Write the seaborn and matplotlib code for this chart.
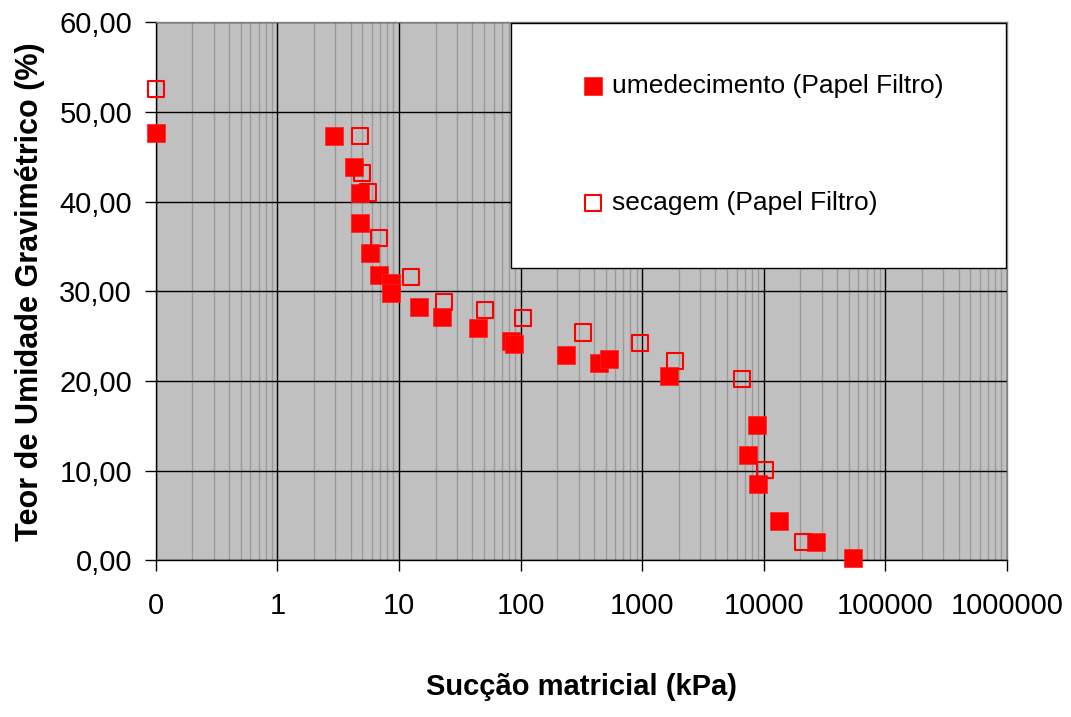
import matplotlib
matplotlib.use("Agg")
import matplotlib.pyplot as plt
import matplotlib.patches as mpatches
from matplotlib.ticker import FixedLocator, LogLocator, NullFormatter
import pandas as pd
import seaborn as sns

# umedecimento (filled squares)
umed_succao = [0.1, 2.9, 4.27, 4.78, 4.78, 5.77, 6.8, 8.6, 8.6, 14.7, 22.6, 44.9,
               83.8, 87.6, 238, 441, 536, 1648, 8730, 7460, 9010, 13340, 26680, 53700]
umed_teor = [47.6, 47.3, 43.9, 41.0, 37.55, 34.3, 31.8, 30.9, 29.8, 28.2, 27.1, 25.9,
             24.5, 24.1, 22.9, 22.0, 22.4, 20.6, 15.1, 11.7, 8.5, 4.4, 2.1, 0.3]

# secagem (open squares)
sec_succao = [0.1, 4.78, 4.96, 5.56, 6.8, 12.55, 23.3, 50.6, 105, 324, 959, 1862,
              6622, 10160, 21130]
sec_teor = [52.5, 47.3, 43.2, 41.0, 35.9, 31.6, 28.8, 27.9, 27.0, 25.4, 24.25, 22.2,
            20.2, 10.1, 2.1]

x_ticks = [0.1, 1, 10, 100, 1000, 10000, 100000, 1000000]
x_tick_labels = ['0', '1', '10', '100', '1000', '10000', '100000', '1000000']
y_ticks = [0, 10, 20, 30, 40, 50, 60]
y_tick_labels = ['0,00', '10,00', '20,00', '30,00', '40,00', '50,00', '60,00']

df_umed = pd.DataFrame({'succao': umed_succao, 'teor': umed_teor})
df_sec = pd.DataFrame({'succao': sec_succao, 'teor': sec_teor})

sns.set_theme(style='ticks')
plt.rcParams['font.family'] = ['Liberation Sans', 'DejaVu Sans']
plt.rcParams['text.color'] = 'black'
plt.rcParams['axes.labelcolor'] = 'black'

fig = plt.figure(figsize=(10.71, 7.17), dpi=100)
ax = fig.add_axes([0.1454, 0.2183, 0.7949, 0.7510])
ax.set_facecolor('#C0C0C0')

sns.scatterplot(data=df_umed, x='succao', y='teor', marker='s', s=150, color='#FF0000',
                edgecolor='#FF2020', linewidth=0.5, ax=ax, clip_on=False, zorder=3,
                label='umedecimento (Papel Filtro)')
sns.scatterplot(data=df_sec, x='succao', y='teor', marker='s', s=135, facecolors='none',
                edgecolor='#FF0000', linewidth=1.5, ax=ax, clip_on=False, zorder=3,
                label='secagem (Papel Filtro)')

ax.set_xscale('log')
ax.set_xlim(0.1, 1000000)
ax.set_ylim(0, 60)

ax.xaxis.set_major_locator(FixedLocator(x_ticks))
ax.set_xticklabels(x_tick_labels)
ax.xaxis.set_minor_locator(LogLocator(base=10, subs=range(2, 10), numticks=20))
ax.xaxis.set_minor_formatter(NullFormatter())
ax.set_yticks(y_ticks)
ax.set_yticklabels(y_tick_labels)

ax.grid(which='major', color='black', linewidth=1.0)
ax.grid(which='minor', axis='x', color='#9A9A9A', linewidth=1.0)
ax.set_axisbelow(True)

ax.tick_params(axis='both', which='major', direction='out', length=8, width=1,
               color='black', labelsize=21, labelcolor='black')
ax.tick_params(axis='x', which='major', pad=15)
ax.tick_params(axis='y', which='major', pad=9)
ax.tick_params(axis='x', which='minor', length=0)

for side in ['left', 'bottom']:
    ax.spines[side].set_color('black')
    ax.spines[side].set_linewidth(1.0)
for side in ['top', 'right']:
    ax.spines[side].set_color('#808080')
    ax.spines[side].set_linewidth(1.0)

ax.set_xlabel('Sucção matricial (kPa)', fontsize=21, fontweight='bold', labelpad=38)
ax.set_ylabel('Teor de Umidade Gravimétrico (%)', fontsize=22, fontweight='bold', labelpad=10)

# legend box
box = mpatches.Rectangle((0.4174, 0.5437), 0.5811, 0.454, transform=ax.transAxes,
                         facecolor='white', edgecolor='black', linewidth=1.0, zorder=4)
ax.add_patch(box)
handles, labels = ax.get_legend_handles_labels()
leg = ax.legend(handles, labels, frameon=False, loc='center left',
                bbox_to_anchor=(0.4984, 0.7725), borderaxespad=0, borderpad=0,
                handlelength=1.0, handletextpad=0.2, labelspacing=3.55, fontsize=19,
                labelcolor='black')
leg.set_zorder(6)

fig.savefig('out.png', dpi=100)
